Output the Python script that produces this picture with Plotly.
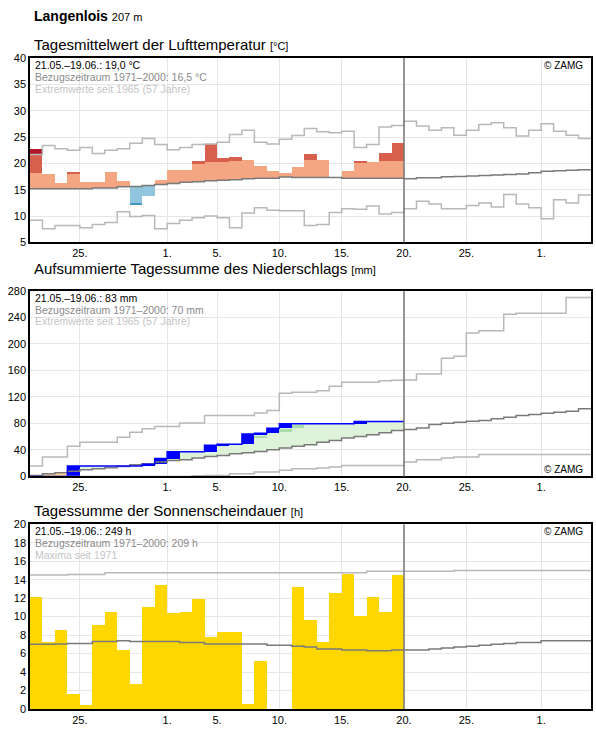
import plotly.graph_objects as go

# ---------------- data ----------------
# day index 0 = 21 May ... 44 = 4 July ; observed period: days 0..29 (21.05.-19.06.)
tick_vals = [4, 11, 15, 20, 25, 30, 35, 41]
tick_text = ['25.', '1.', '5.', '10.', '15.', '20.', '25.', '1.']

# Temperature (°C)
t_obs = [22.8, 17.9, 16.2, 18.3, 16.4, 16.4, 18.3, 16.6, 12.1, 13.8,
         16.8, 18.7, 18.7, 20.4, 23.6, 21.1, 21.3, 20.55, 19.6, 18.5,
         18.1, 19.4, 21.7, 20.55, 17.3, 18.65, 20.4, 20.2, 21.9, 23.8]
t_mean = [15.2, 15.2, 15.2, 15.2, 15.2, 15.35, 15.35, 15.55, 15.6, 15.8,
          16.0, 16.2, 16.4, 16.5, 16.7, 16.8, 16.9, 17.1, 17.2, 17.2,
          17.4, 17.3, 17.3, 17.3, 17.3, 17.2, 17.2, 17.2, 17.2, 17.2,
          17.07, 17.27, 17.27, 17.46, 17.5, 17.6, 17.7, 17.8, 17.9, 18.0,
          18.2, 18.5, 18.6, 18.7, 18.8]
t_max = [21.7, 23.4, 22.8, 22.5, 23.0, 21.9, 22.5, 22.8, 23.8, 24.7,
         23.6, 22.6, 23.0, 23.6, 23.7, 24.0, 25.5, 26.3, 24.0, 23.7,
         24.6, 25.3, 26.6, 26.0, 25.8, 26.1, 23.0, 23.6, 26.9, 27.2,
         28.0, 27.1, 26.3, 26.75, 25.35, 26.3, 27.4, 27.7, 26.75, 25.2,
         26.3, 27.5, 26.1, 25.35, 24.7]
t_min = [9.2, 7.6, 8.2, 8.2, 7.8, 8.4, 8.8, 10.8, 9.9, 10.1,
         7.6, 8.6, 9.2, 9.7, 10.0, 9.7, 7.8, 10.6, 11.6, 11.1,
         11.0, 11.0, 8.2, 8.4, 10.7, 11.4, 11.3, 11.9, 10.4, 10.7,
         11.4, 12.8, 12.3, 11.4, 11.4, 12.0, 12.5, 11.7, 14.1, 12.3,
         11.6, 9.5, 13.1, 12.5, 14.0]
t_hi = [18.1, 18.1, 18.1, 18.1, 18.2, 18.3, 18.3, 18.5, 18.6, 18.8,
        19.0, 19.3, 19.5, 19.8, 20.2, 20.2, 20.4, 20.6, 20.6, 20.6,
        20.6, 20.6, 20.55, 20.6, 20.5, 20.4, 20.2, 20.3, 20.4, 20.4]
t_lo = [12.2, 12.2, 12.2, 12.2, 12.2, 12.3, 12.3, 12.4, 12.5, 12.7,
        12.9, 13.1, 13.3, 13.4, 13.6, 13.7, 13.8, 14.0, 14.1, 14.1,
        14.2, 14.2, 14.2, 14.2, 14.2, 14.1, 14.1, 14.1, 14.1, 14.1]

# Precipitation (mm)
p_daily = [0, 0, 0, 15.8, 0, 0, 0, 0, 0, 2.5,
           8.7, 10.1, 0, 0, 10.1, 1.5, 0, 15.3, 1.0, 7.6,
           6.9, 0, 0, 0, 0, 0, 3.3, 0, 0, 0]
p_mean = [1.5, 4.0, 5.6, 7.6, 10.0, 11.6, 13.1, 15.1, 17.6, 19.1,
          21.6, 24.1, 25.1, 27.6, 30.1, 31.6, 34.2, 35.7, 37.7, 40.2,
          42.7, 45.7, 47.7, 51.7, 54.2, 57.8, 60.2, 62.8, 65.8, 69.3,
          70.8, 72.9, 78.3, 80.4, 81.9, 83.4, 84.3, 86.9, 89.5, 91.9,
          93.4, 95.5, 97.0, 98.5, 102.0]
p_max = [15.6, 29.2, 29.2, 45.7, 51.7, 51.7, 51.7, 59.3, 66.8, 71.8,
         75.3, 75.3, 80.8, 80.8, 91.9, 91.9, 91.9, 91.9, 95.9, 99.4,
         125.6, 127.1, 127.1, 129.5, 136.1, 142.1, 142.1, 142.1, 144.6, 145.2,
         145.6, 154.7, 154.7, 178.3, 181.3, 216.4, 219.9, 219.9, 245.0, 246.5,
         246.5, 246.5, 246.5, 270.2, 270.2]
p_min = [0, 0, 0, 0, 0, 0, 0, 0, 0, 0,
         0, 0, 0, 1.0, 1.5, 1.5, 4.1, 4.1, 6.6, 6.6,
         9.1, 11.6, 11.6, 12.8, 14.1, 16.6, 16.6, 16.6, 16.6, 16.6,
         21.7, 25.1, 25.1, 27.7, 29.2, 29.2, 33.2, 33.2, 33.2, 33.2,
         33.2, 33.2, 33.2, 33.2, 33.2]
p_mark_day = [18, 20, 21]
p_mark_lo = [58.3, 67.8, 73.3]
p_mark_hi = [61.7, 71.8, 77.9]

# Sunshine (h)
s_obs = [12.1, 7.2, 8.5, 1.6, 0.4, 9.05, 10.45, 6.4, 2.7, 11.0,
         13.4, 10.35, 10.45, 11.9, 7.8, 8.3, 8.3, 0.5, 5.15, 0.0,
         0.0, 13.15, 9.6, 7.2, 12.5, 14.55, 10.0, 12.1, 10.45, 14.45]
s_mean = [7.0, 7.0, 7.05, 7.1, 7.1, 7.3, 7.3, 7.4, 7.3, 7.3,
          7.3, 7.3, 7.2, 7.2, 7.05, 7.05, 7.05, 7.05, 7.05, 6.9,
          6.9, 6.8, 6.7, 6.5, 6.5, 6.4, 6.4, 6.3, 6.3, 6.4,
          6.4, 6.4, 6.5, 6.6, 6.7, 6.8, 6.9, 7.0, 7.1, 7.2,
          7.2, 7.4, 7.4, 7.4, 7.4]
s_max = [14.5, 14.5, 14.5, 14.55, 14.55, 14.55, 14.75, 14.75, 14.75, 14.75,
         14.75, 14.75, 14.75, 14.75, 14.75, 14.75, 14.75, 14.75, 14.75, 14.75,
         14.75, 14.75, 14.75, 14.75, 14.75, 14.75, 14.75, 14.9, 14.9, 14.9,
         14.9, 14.9, 14.9, 14.9, 15.0, 15.0, 15.0, 15.0, 15.0, 15.0,
         15.0, 15.0, 15.0, 15.0, 15.0]

# ---------------- styling ----------------
FONT = 'Liberation Sans, Arial, sans-serif'
C_LMAX = '#b8b8b8'
C_MEAN = '#7a7a7a'
C_RED1 = '#f4a582'
C_RED2 = '#d6604d'
C_RED3 = '#b2182b'
C_BLU1 = '#92c5de'
C_BLU2 = '#4393c3'
C_GREEN = '#ddf2d8'
C_GREEN2 = '#a8dcaa'
C_ORANGE = '#fdd28c'
C_BLUE = '#0000ff'
C_SUN = '#ffd700'

fig = go.Figure()


def step(vals, xa, ya, color, width=1.5):
    xs = list(range(len(vals) + 1))
    ys = list(vals) + [vals[-1]]
    fig.add_trace(go.Scatter(x=xs, y=ys, mode='lines', line=dict(shape='hv', color=color, width=width),
                             xaxis=xa, yaxis=ya, hoverinfo='skip'))


def bars(xs, base, top, color, xa, ya):
    fig.add_trace(go.Bar(x=[d + 0.5 for d in xs], y=[t - b for b, t in zip(base, top)], base=base,
                         width=1, marker=dict(color=color, line=dict(width=0)),
                         xaxis=xa, yaxis=ya, hoverinfo='skip'))


# ---- temperature layers ----
L1 = ([], [], []); L2 = ([], [], []); L3 = ([], [], []); B1 = ([], [], []); B2 = ([], [], [])
for d, t in enumerate(t_obs):
    m = t_mean[d]
    if t > m:
        L1[0].append(d); L1[1].append(m); L1[2].append(min(t, t_hi[d]))
        if t > t_hi[d]:
            L2[0].append(d); L2[1].append(t_hi[d]); L2[2].append(min(t, t_max[d]))
        if t > t_max[d]:
            L3[0].append(d); L3[1].append(max(t_max[d], t_hi[d])); L3[2].append(t)
    elif t < m:
        B1[0].append(d); B1[1].append(max(t, t_lo[d])); B1[2].append(m)
        if t < t_lo[d]:
            B2[0].append(d); B2[1].append(t); B2[2].append(t_lo[d])
for L, c in [(L1, C_RED1), (L2, C_RED2), (L3, C_RED3), (B1, C_BLU1), (B2, C_BLU2)]:
    if L[0]:
        bars(L[0], L[1], L[2], c, 'x', 'y')
step(t_max, 'x', 'y', C_LMAX)
step(t_min, 'x', 'y', C_LMAX)
step(t_mean, 'x', 'y', C_MEAN)

# ---- precipitation ----
p_cum = []
acc = 0
for v in p_daily:
    acc += v
    p_cum.append(acc)
p_prev = [0] + p_cum[:-1]
gd = [d for d in range(30) if p_cum[d] >= p_mean[d]]
od = [d for d in range(30) if p_cum[d] < p_mean[d]]
bars(gd, [p_mean[d] for d in gd], [p_cum[d] for d in gd], C_GREEN, 'x2', 'y2')
bars(od, [p_cum[d] for d in od], [p_mean[d] for d in od], C_ORANGE, 'x2', 'y2')
bars(p_mark_day, p_mark_lo, p_mark_hi, C_GREEN2, 'x2', 'y2')
rd = [d for d in range(30) if p_daily[d] > 0]
bars(rd, [p_prev[d] for d in rd], [p_cum[d] for d in rd], C_BLUE, 'x2', 'y2')
step(p_max, 'x2', 'y2', C_LMAX)
step(p_min, 'x2', 'y2', C_LMAX)
step(p_mean, 'x2', 'y2', C_MEAN)
step(p_cum, 'x2', 'y2', C_BLUE)

# ---- sunshine ----
bars(list(range(30)), [0] * 30, s_obs, C_SUN, 'x3', 'y3')
step(s_max, 'x3', 'y3', C_LMAX)
step(s_mean, 'x3', 'y3', C_MEAN)

# ---------------- layout ----------------
doms = [[0.7167, 1.0], [0.3573, 0.6421], [0.0, 0.2838]]
yr = [[5, 40, 5], [0, 280, 40], [0, 20, 2]]
layout = dict(width=596, height=729, margin=dict(l=30, r=3, t=58, b=18),
              paper_bgcolor='white', plot_bgcolor='white', showlegend=False,
              barmode='overlay', bargap=0, font=dict(family=FONT, size=11, color='black'))
for i in range(3):
    sx = '' if i == 0 else str(i + 1)
    layout['xaxis' + sx] = dict(domain=[0, 1], range=[0, 45], anchor='y' + sx,
                                tickvals=tick_vals, ticktext=tick_text, showgrid=True,
                                gridcolor='#e6e6e6', gridwidth=1, showline=True, mirror=True,
                                linecolor='black', linewidth=1.5, ticks='', zeroline=False,
                                tickfont=dict(size=11, family=FONT, color='black'), fixedrange=True)
    layout['yaxis' + sx] = dict(domain=doms[i], range=yr[i][:2], anchor='x' + sx,
                                tickmode='linear', tick0=yr[i][0], dtick=yr[i][2],
                                showgrid=True, gridcolor='#e6e6e6', gridwidth=1, showline=True,
                                mirror=True, linecolor='black', linewidth=1.5, ticks='',
                                zeroline=False, tickfont=dict(size=11, family=FONT, color='black'),
                                fixedrange=True)
fig.update_layout(**layout)

# vertical marker at 20 June
for i in range(3):
    sx = '' if i == 0 else str(i + 1)
    fig.add_shape(type='line', x0=30, x1=30, y0=0, y1=1, xref='x' + sx, yref='y' + sx + ' domain',
                  line=dict(color='#777777', width=1.5), layer='above')

ann = []
ann.append(dict(text="<b>Langenlois</b> <span style='font-size:11px'>207 m</span>", x=0.0036, y=1.0643,
                xref='paper', yref='paper', xanchor='left', yanchor='middle', showarrow=False,
                font=dict(size=14, family=FONT, color='black')))
titles = [("Tagesmittelwert der Lufttemperatur", "[°C]", 1.0215),
          ("Aufsummierte Tagessumme des Niederschlags", "[mm]", 0.6768),
          ("Tagessumme der Sonnenscheindauer", "[h]", 0.3047)]
for t, u, y in titles:
    ann.append(dict(text=t + " <span style='font-size:11px'>" + u + "</span>", x=0.0036, y=y,
                    xref='paper', yref='paper', xanchor='left', yanchor='middle', showarrow=False,
                    font=dict(size=15, family=FONT, color='black')))

info = [["21.05.–19.06.: 19,0 °C", "Bezugszeitraum 1971–2000: 16,5 °C", "Extremwerte seit 1965 (57 Jahre)"],
        ["21.05.–19.06.: 83 mm", "Bezugszeitraum 1971–2000: 70 mm", "Extremwerte seit 1965 (57 Jahre)"],
        ["21.05.–19.06.: 249 h", "Bezugszeitraum 1971–2000: 209 h", "Maxima seit 1971"]]
# pixel rows of the three info lines (from top of each panel)
tops = [58.5, 291.7, 525.7]
hts = [184.5, 186.0, 185.0]
rows = [7.0, 18.8, 30.6]
cols = ['black', '#8a8a8a', '#c4c4c4']
for i in range(3):
    sx = '' if i == 0 else str(i + 1)
    for j in range(3):
        yy = 1 - rows[j] / hts[i]
        ann.append(dict(text=info[i][j], x=0.006, y=yy, xref='x' + sx + ' domain',
                        yref='y' + sx + ' domain', xanchor='left', yanchor='middle', showarrow=False,
                        font=dict(size=10.5, family=FONT, color=cols[j])))
zy = [0.958, 0.037, 0.96]
for i in range(3):
    sx = '' if i == 0 else str(i + 1)
    ann.append(dict(text="© ZAMG", x=0.99, y=zy[i], xref='x' + sx + ' domain', yref='y' + sx + ' domain',
                    xanchor='right', yanchor='middle', showarrow=False,
                    font=dict(size=10, family=FONT, color='black')))
fig.update_layout(annotations=ann)

fig.write_html("out.html")
